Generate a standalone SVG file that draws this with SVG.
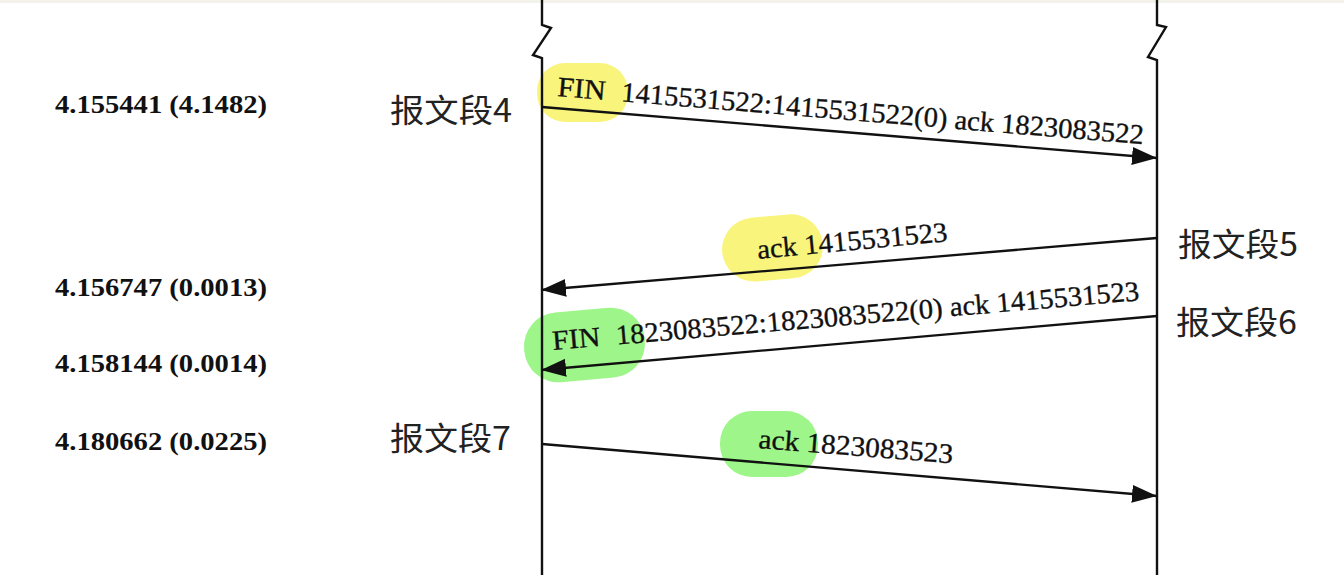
<svg xmlns="http://www.w3.org/2000/svg" width="1344" height="580" viewBox="0 0 1344 580">
<defs>
<style>
.life{fill:none;stroke:#111;stroke-width:2.4;stroke-linejoin:miter}
.msg{fill:none;stroke:#111;stroke-width:2.3}
.lbl{font-family:"Liberation Serif","DejaVu Serif",serif;font-size:28px;fill:#111;stroke:#111;stroke-width:0.35}
.ts{font-family:"Liberation Serif","DejaVu Serif",serif;font-size:25px;font-weight:bold;fill:#111}
.seg{font-family:"Noto Sans CJK SC","Noto Sans",sans-serif;font-size:32px;fill:#222}
.hy{fill:#f9f57c}
.hg{fill:#9ef68a}
</style>
<marker id="ah" markerUnits="userSpaceOnUse" markerWidth="28" markerHeight="20" refX="25" refY="9" orient="auto">
<path d="M0,0 L25,9 L0,18 Z" fill="#111"/>
</marker>
</defs>
<rect x="0" y="0" width="1344" height="580" fill="#fff"/>
<rect x="0" y="0" width="1344" height="3" fill="#f3f3ec"/>

<g id="highlights">
<rect class="hy" x="537" y="63" width="91" height="59" rx="28"/>
<rect class="hy" x="722" y="216" width="101" height="64" rx="32" transform="rotate(-5 772 248)"/>
<rect class="hg" x="524" y="310" width="121" height="70" rx="34" transform="rotate(-5 584 345)"/>
<rect class="hg" x="720" y="411" width="98" height="66" rx="32"/>
</g>

<g id="lifeline-left">
<path class="life" d="M542,0 L542,25 L551,28 L533,55 L542,58 L542,575"/>
</g>
<g id="lifeline-right">
<path class="life" d="M1157,0 L1157,25 L1166,27 L1148,57 L1157,60 L1157,575"/>
</g>

<g id="connectors">
<line class="msg" x1="542" y1="107" x2="1157" y2="158" marker-end="url(#ah)"/>
<line class="msg" x1="1157" y1="238" x2="541" y2="290" marker-end="url(#ah)"/>
<line class="msg" x1="1157" y1="316" x2="541" y2="370" marker-end="url(#ah)"/>
<line class="msg" x1="542" y1="444" x2="1157" y2="496" marker-end="url(#ah)"/>
</g>

<g id="msg-labels">
<text class="lbl" x="557" y="96" transform="rotate(4.7 557 96)"><tspan textLength="48" lengthAdjust="spacingAndGlyphs">FIN</tspan><tspan x="621" textLength="524" lengthAdjust="spacingAndGlyphs">1415531522:1415531522(0) ack 1823083522</tspan></text>
<text class="lbl" x="758" y="259" transform="rotate(-5.4 758 259)" textLength="191" lengthAdjust="spacingAndGlyphs">ack 1415531523</text>
<text class="lbl" x="553" y="350" transform="rotate(-4.85 553 350)"><tspan textLength="48" lengthAdjust="spacingAndGlyphs">FIN</tspan><tspan x="617" textLength="525" lengthAdjust="spacingAndGlyphs">1823083522:1823083522(0) ack 1415531523</tspan></text>
<text class="lbl" x="758" y="448" transform="rotate(4.5 758 448)" textLength="195" lengthAdjust="spacingAndGlyphs">ack 1823083523</text>
</g>

<g id="timestamps">
<text class="ts" x="55" y="113" textLength="212" lengthAdjust="spacingAndGlyphs">4.155441 (4.1482)</text>
<text class="ts" x="55" y="296" textLength="212" lengthAdjust="spacingAndGlyphs">4.156747 (0.0013)</text>
<text class="ts" x="55" y="372" textLength="212" lengthAdjust="spacingAndGlyphs">4.158144 (0.0014)</text>
<text class="ts" x="55" y="450" textLength="212" lengthAdjust="spacingAndGlyphs">4.180662 (0.0225)</text>
</g>

<g id="segments">
<text class="seg" x="390" y="122" textLength="122" lengthAdjust="spacingAndGlyphs">报文段4</text>
<text class="seg" x="1178" y="256" textLength="120" lengthAdjust="spacingAndGlyphs">报文段5</text>
<text class="seg" x="1176" y="334" textLength="121" lengthAdjust="spacingAndGlyphs">报文段6</text>
<text class="seg" x="390" y="450" textLength="121" lengthAdjust="spacingAndGlyphs">报文段7</text>
</g>
</svg>
